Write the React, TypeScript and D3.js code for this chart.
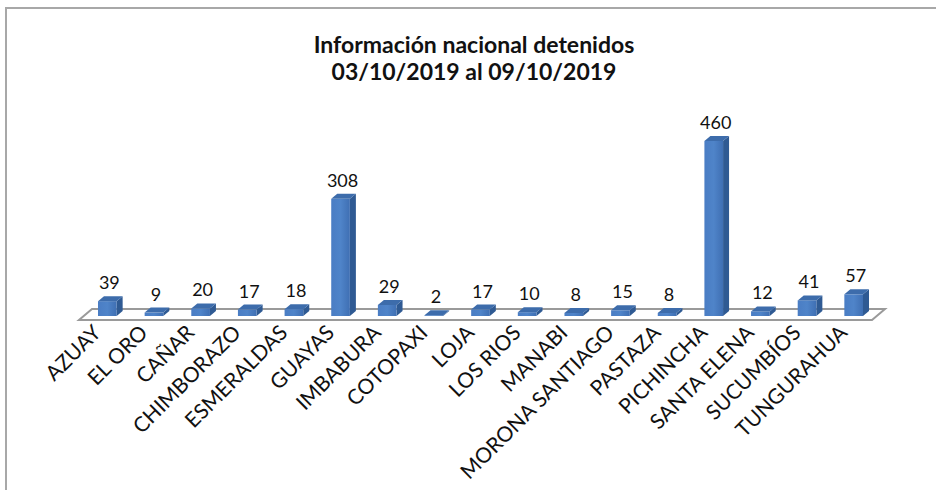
import React from "react";
import * as d3 from "d3";

const categories = [
  "AZUAY", "EL ORO", "CAÑAR", "CHIMBORAZO", "ESMERALDAS", "GUAYAS", "IMBABURA",
  "COTOPAXI", "LOJA", "LOS RIOS", "MANABI", "MORONA SANTIAGO", "PASTAZA",
  "PICHINCHA", "SANTA ELENA", "SUCUMBÍOS", "TUNGURAHUA",
];
const values = [39, 9, 20, 17, 18, 308, 29, 2, 17, 10, 8, 15, 8, 460, 12, 41, 57];
const titleLines = ["Información nacional detenidos", "03/10/2019 al 09/10/2019"];

const W = 936;
const H = 490;
const floorFrontY = 320;
const floorBackY = 309;
const floorLeft = 79;
const floorRight = 872;
const floorDx = 13;
const barBaseY = 316;
const barShift = 5;
const depthX = 6;
const depthY = 5;
const font = "Lato, 'Open Sans', sans-serif";

export default function App() {
  const x = d3
    .scaleBand<string>()
    .domain(categories)
    .range([floorLeft, floorRight])
    .paddingInner(0.6)
    .paddingOuter(0.3);
  const y = d3.scaleLinear().domain([0, 460]).range([barBaseY, 141]);
  const w = x.bandwidth();

  const floor = [
    [floorLeft, floorFrontY],
    [floorRight, floorFrontY],
    [floorRight + floorDx, floorBackY],
    [floorLeft + floorDx, floorBackY],
  ];

  return (
    <svg
      width={W}
      height={H}
      style={{ position: "absolute", left: 0, top: 0, background: "#fff" }}
    >
      <defs>
        <linearGradient id="front" x1="0" x2="1" y1="0" y2="0">
          <stop offset="0" stopColor="#4a7dc4" />
          <stop offset="0.5" stopColor="#4f84c9" />
          <stop offset="1" stopColor="#3f6fb3" />
        </linearGradient>
      </defs>
      <rect x={0} y={0} width={W} height={H} fill="#fff" />
      <path d={`M6,${H} L6,8 L${W},8`} fill="none" stroke="#a8a8a8" strokeWidth={2} />

      {titleLines.map((t, i) => (
        <text
          key={i}
          x={474}
          y={53 + i * 27}
          textAnchor="middle"
          fontFamily={font}
          fontWeight="bold"
          fontSize={23}
          fill="#111"
        >
          {t}
        </text>
      ))}

      <polygon
        points={floor.map((p) => p.join(",")).join(" ")}
        fill="#fff"
        stroke="#9a9a9a"
        strokeWidth={2}
      />

      {categories.map((c, i) => {
        const v = values[i];
        const bx = (x(c) as number) + barShift;
        const yt = y(v);
        const top = `${bx},${yt} ${bx + w},${yt} ${bx + w + depthX},${yt - depthY} ${bx + depthX},${yt - depthY}`;
        const side = `${bx + w},${yt} ${bx + w + depthX},${yt - depthY} ${bx + w + depthX},${barBaseY - depthY} ${bx + w},${barBaseY}`;
        return (
          <g key={c}>
            <polygon points={side} fill="#2f5a93" />
            <rect x={bx} y={yt} width={w} height={barBaseY - yt} fill="url(#front)" />
            <polygon points={top} fill="#3d6cab" />
            <text
              x={bx + w / 2 + 2}
              y={yt - 12}
              textAnchor="middle"
              fontFamily={font}
              fontSize={18}
              fill="#111"
            >
              {v}
            </text>
          </g>
        );
      })}

      {categories.map((c) => {
        const cx = (x(c) as number) + w / 2;
        const cy = 334;
        return (
          <text
            key={"l" + c}
            transform={`translate(${cx},${cy}) rotate(-45)`}
            textAnchor="end"
            fontFamily={font}
            fontSize={21}
            fill="#111"
          >
            {c}
          </text>
        );
      })}
    </svg>
  );
}
